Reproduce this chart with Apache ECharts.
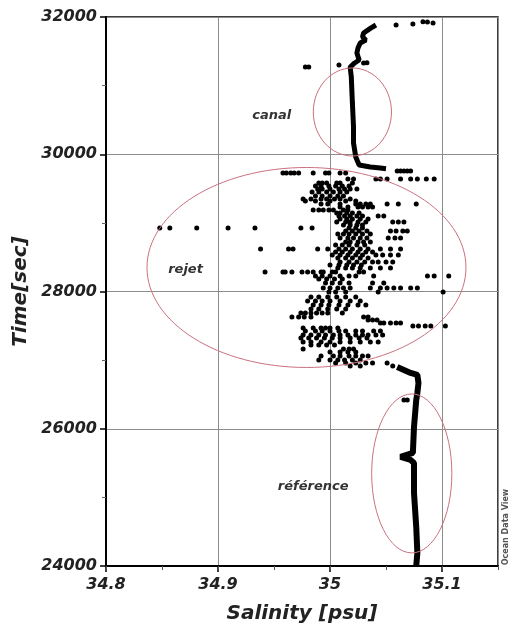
<!DOCTYPE html>
<html lang="fr">
<head>
<meta charset="UTF-8" />
<title>Salinity / Time</title>
<style>
  * { margin: 0; padding: 0; }
  html, body { width: 100%; height: 100%; background: #fff; }
  #main { width: 510px; height: 625px; }
</style>
</head>
<body>
<div id="main"></div>
<script src="https://cdn.jsdelivr.net/npm/echarts@6/dist/echarts.min.js"></script>
<script>
// tick labels
var xTicks = [34.8, 34.9, 35, 35.1];
var yTicks = [24000, 26000, 28000, 30000, 32000];

// thick trace through the canal (top)
var canalLine = [
  [35.041, 31883], [35.036, 31835], [35.030, 31767], [35.029, 31709], [35.032, 31665],
  [35.027, 31621], [35.025, 31548], [35.024, 31475], [35.026, 31373], [35.022, 31330],
  [35.018, 31271], [35.019, 31130], [35.020, 30747], [35.021, 30397], [35.021, 30164],
  [35.023, 29960], [35.026, 29844], [35.036, 29815], [35.045, 29800], [35.050, 29790]
];

// thick trace of the reference water (bottom)
var referenceLine = [
  [35.060, 26900], [35.066, 26857], [35.072, 26813], [35.078, 26784], [35.079, 26667],
  [35.078, 26522], [35.077, 26420], [35.075, 26026], [35.074, 25647], [35.073, 25618],
  [35.063, 25589], [35.072, 25545], [35.075, 25502], [35.075, 25065], [35.077, 24569],
  [35.078, 24190], [35.077, 24000]
];

// loose points around the canal trace
var extraPoints = [
  [35.059, 31883], [35.074, 31898], [35.083, 31932], [35.087, 31927], [35.092, 31913],
  [35.008, 31300], [34.978, 31271], [34.981, 31271], [35.030, 31330], [35.033, 31335],
  [35.066, 26420], [35.069, 26420]
];

// discharge plume: [time, [salinities...]]
var rejetRows = [
  [29756, [35.060, 35.063, 35.066, 35.069, 35.072]],
  [29727, [34.958, 34.961, 34.965, 34.968, 34.972, 34.985, 34.996, 34.999, 35.009, 35.014]],
  [29640, [35.016, 35.021, 35.041, 35.045, 35.051, 35.063, 35.072, 35.078, 35.086, 35.093]],
  [29581, [34.990, 34.993, 34.997, 35.006, 35.009, 35.020]],
  [29538, [34.987, 34.992, 34.999, 35.005, 35.011, 35.017]],
  [29494, [34.989, 34.993, 35.000, 35.008, 35.013, 35.018, 35.024]],
  [29450, [34.984, 34.990, 34.997, 35.003, 35.009, 35.015]],
  [29392, [34.987, 34.993, 35.000, 35.007, 35.012]],
  [29348, [34.976, 34.983, 34.992, 34.997, 35.004, 35.009, 35.018]],
  [29319, [34.978, 34.987, 35.000, 35.014, 35.023]],
  [29275, [34.992, 34.998, 35.009, 35.023, 35.027, 35.032, 35.036, 35.051, 35.061, 35.077]],
  [29232, [35.009, 35.016, 35.025, 35.029, 35.034, 35.038]],
  [29188, [34.985, 34.990, 34.994, 34.999, 35.003, 35.012, 35.016]],
  [29144, [35.006, 35.009, 35.015, 35.020, 35.026]],
  [29101, [35.008, 35.013, 35.018, 35.024, 35.029, 35.043, 35.048]],
  [29057, [35.009, 35.015, 35.020, 35.027, 35.034]],
  [29013, [35.006, 35.014, 35.018, 35.025, 35.032, 35.056, 35.061, 35.066]],
  [28969, [35.012, 35.018, 35.024, 35.029]],
  [28926, [34.848, 34.857, 34.881, 34.909, 34.933, 34.974, 34.984, 35.017, 35.023, 35.029]],
  [28882, [35.014, 35.020, 35.026, 35.033, 35.054, 35.059, 35.065, 35.069]],
  [28838, [35.007, 35.012, 35.017, 35.023, 35.029, 35.036]],
  [28780, [35.009, 35.016, 35.021, 35.027, 35.033, 35.052, 35.058, 35.063]],
  [28722, [35.014, 35.018, 35.025, 35.030, 35.036]],
  [28678, [35.005, 35.011, 35.017, 35.024, 35.031]],
  [28620, [34.938, 34.963, 34.967, 34.989, 34.998, 35.008, 35.014, 35.020, 35.027, 35.034, 35.045, 35.054, 35.063]],
  [28576, [35.005, 35.011, 35.018, 35.025, 35.032, 35.038]],
  [28532, [35.002, 35.009, 35.016, 35.023, 35.029, 35.041, 35.047, 35.054, 35.061]],
  [28489, [35.007, 35.014, 35.020, 35.027, 35.034]],
  [28430, [35.009, 35.017, 35.024, 35.031, 35.038, 35.043, 35.050, 35.056]],
  [28387, [35.000, 35.008, 35.015, 35.021, 35.028]],
  [28343, [35.007, 35.014, 35.020, 35.027, 35.036, 35.045, 35.054]],
  [28285, [34.942, 34.958, 34.960, 34.966, 34.975, 34.980, 34.985, 34.992, 34.994, 35.002, 35.005, 35.026, 35.030]],
  [28226, [34.987, 34.993, 35.000, 35.009, 35.017, 35.023, 35.039, 35.087, 35.093, 35.106]],
  [28183, [34.990, 34.997, 35.004, 35.011]],
  [28124, [34.996, 35.002, 35.009, 35.017, 35.038, 35.048]],
  [28052, [34.994, 35.000, 35.007, 35.012, 35.018, 35.036, 35.045, 35.051, 35.057, 35.063, 35.072, 35.078]],
  [27993, [34.999, 35.005, 35.014, 35.043, 35.101]],
  [27920, [34.983, 34.990, 34.998, 35.006, 35.014, 35.023]],
  [27862, [34.980, 34.987, 34.993, 35.000, 35.009, 35.018, 35.027]],
  [27804, [34.985, 34.992, 34.999, 35.008, 35.016, 35.025, 35.032]],
  [27746, [34.983, 34.990, 34.998, 35.006, 35.014]],
  [27687, [34.974, 34.978, 34.983, 34.988, 34.993, 34.998, 35.011]],
  [27629, [34.966, 34.972, 34.977, 34.983, 35.030, 35.034]],
  [27585, [35.034, 35.038, 35.042]],
  [27542, [35.045, 35.048, 35.054, 35.059, 35.063]],
  [27498, [35.074, 35.079, 35.085, 35.090, 35.103]],
  [27469, [34.976, 34.985, 34.992, 34.996, 35.000, 35.007]],
  [27425, [34.978, 34.987, 34.993, 35.000, 35.008, 35.014, 35.023, 35.029, 35.039, 35.045]],
  [27367, [34.976, 34.983, 34.990, 34.996, 35.003, 35.009, 35.016, 35.023, 35.029, 35.034, 35.041, 35.047]],
  [27323, [34.974, 34.981, 34.988, 34.995, 35.002, 35.009, 35.018, 35.026, 35.033]],
  [27265, [34.976, 34.983, 34.992, 35.000, 35.009, 35.018, 35.027, 35.036, 35.043]],
  [27221, [34.983, 34.990, 34.997, 35.004]],
  [27163, [34.976, 35.012, 35.017, 35.021]],
  [27119, [35.000, 35.009, 35.016, 35.023]],
  [27061, [34.992, 35.003, 35.009, 35.017, 35.023, 35.029, 35.034]],
  [27002, [34.990, 35.000, 35.007, 35.013, 35.020, 35.027]],
  [26959, [35.005, 35.014, 35.023, 35.032, 35.038, 35.051]],
  [26915, [35.018, 35.027, 35.056]]
];

// circled zones: centre, half-axes (data units) and label position
var zones = [
  { name: 'canal', cx: 35.020, cy: 30616, rx: 0.0349, ry: 641, lx: 34.948, ly: 30558 },
  { name: 'rejet', cx: 34.979, cy: 28350, rx: 0.1424, ry: 1457, lx: 34.871, ly: 28314 },
  { name: 'référence', cx: 35.073, cy: 25349, rx: 0.0358, ry: 1158, lx: 34.985, ly: 25152 }
];

var font = '"DejaVu Sans", "Liberation Sans", sans-serif';

var rejetPoints = [];
rejetRows.forEach(function (row) {
  row[1].forEach(function (s) { rejetPoints.push([s, row[0]]); });
});

var chart = echarts.init(document.getElementById('main'));

var labelStyle = {
  fontFamily: font, fontSize: 16, fontStyle: 'italic', fontWeight: 'bold', color: '#222'
};
var nameStyle = {
  fontFamily: font, fontSize: 20, fontStyle: 'italic', fontWeight: 'bold', color: '#222'
};

chart.setOption({
  animation: false,
  grid: {
    left: 106, right: 12, top: 17, bottom: 59, outerBoundsMode: 'none',
    show: true, borderColor: '#000', borderWidth: 1.5
  },
  xAxis: [{
    type: 'value', min: 34.8, max: 35.15, interval: 0.1,
    axisLine: { show: true, onZero: false, lineStyle: { color: '#000', width: 2 } },
    axisTick: { show: true, length: 6, lineStyle: { color: '#000', width: 1.5 } },
    axisLabel: Object.assign({
      margin: 11, showMaxLabel: false,
      formatter: function (v) {
        for (var i = 0; i < xTicks.length; i++) {
          if (Math.abs(xTicks[i] - v) < 1e-6) return String(xTicks[i]);
        }
        return '';
      }
    }, labelStyle),
    splitLine: { show: true, lineStyle: { color: '#8c8c8c', width: 1 } },
    name: 'Salinity [psu]', nameLocation: 'middle', nameGap: 38,
    nameTextStyle: nameStyle
  }, {
    // minor ticks every 0.05
    type: 'value', min: 34.8, max: 35.15, interval: 0.05, position: 'bottom',
    axisLine: { show: false },
    axisTick: { show: true, length: 4, lineStyle: { color: '#555' } },
    axisLabel: { show: false },
    splitLine: { show: false }
  }],
  yAxis: {
    type: 'value', min: 24000, max: 32000, interval: 2000,
    axisLine: { show: true, lineStyle: { color: '#000', width: 2 } },
    axisTick: { show: true, length: 6, lineStyle: { color: '#000', width: 1.5 } },
    minorTick: { show: true, splitNumber: 2, length: 4, lineStyle: { color: '#666' } },
    axisLabel: Object.assign({
      margin: 9,
      formatter: function (v) { return yTicks.indexOf(v) >= 0 ? String(v) : ''; }
    }, labelStyle),
    splitLine: { show: true, lineStyle: { color: '#8c8c8c', width: 1 } },
    name: 'Time[sec]', nameLocation: 'middle', nameGap: 65, nameRotate: 90,
    nameTextStyle: nameStyle
  },
  series: [
    {
      name: 'rejet', type: 'scatter', data: rejetPoints, symbolSize: 5,
      itemStyle: { color: '#000', opacity: 1 }
    },
    {
      name: 'extra', type: 'scatter', data: extraPoints, symbolSize: 5,
      itemStyle: { color: '#000', opacity: 1 }
    },
    {
      name: 'canal', type: 'line', data: canalLine, symbol: 'none',
      lineStyle: { color: '#000', width: 5 }
    },
    {
      name: 'référence', type: 'line', data: referenceLine, symbol: 'none',
      lineStyle: { color: '#000', width: 6 }
    }
  ]
});

// ellipses and zone names placed through the axes
function drawZones() {
  var els = [];
  zones.forEach(function (z) {
    var finder = { xAxisIndex: 0, yAxisIndex: 0 };
    var c = chart.convertToPixel(finder, [z.cx, z.cy]);
    var e = chart.convertToPixel(finder, [z.cx + z.rx, z.cy + z.ry]);
    els.push({
      type: 'ellipse', z: 5, silent: true,
      shape: { cx: c[0], cy: c[1], rx: e[0] - c[0], ry: c[1] - e[1] },
      style: { fill: 'none', stroke: '#c9707d', lineWidth: 1 }
    });
    var l = chart.convertToPixel(finder, [z.lx, z.ly]);
    els.push({
      type: 'text', z: 6, x: l[0], y: l[1],
      style: {
        text: z.name, fill: '#333', align: 'center', verticalAlign: 'middle',
        font: 'italic bold 13px ' + font
      }
    });
  });
  els.push({
    type: 'text', z: 6, x: 506, y: 527, rotation: Math.PI / 2,
    style: {
      text: 'Ocean Data View', fill: '#555', align: 'center', verticalAlign: 'middle',
      font: 'bold 8px ' + font
    }
  });
  chart.setOption({ graphic: els });
}
drawZones();
</script>
</body>
</html>
